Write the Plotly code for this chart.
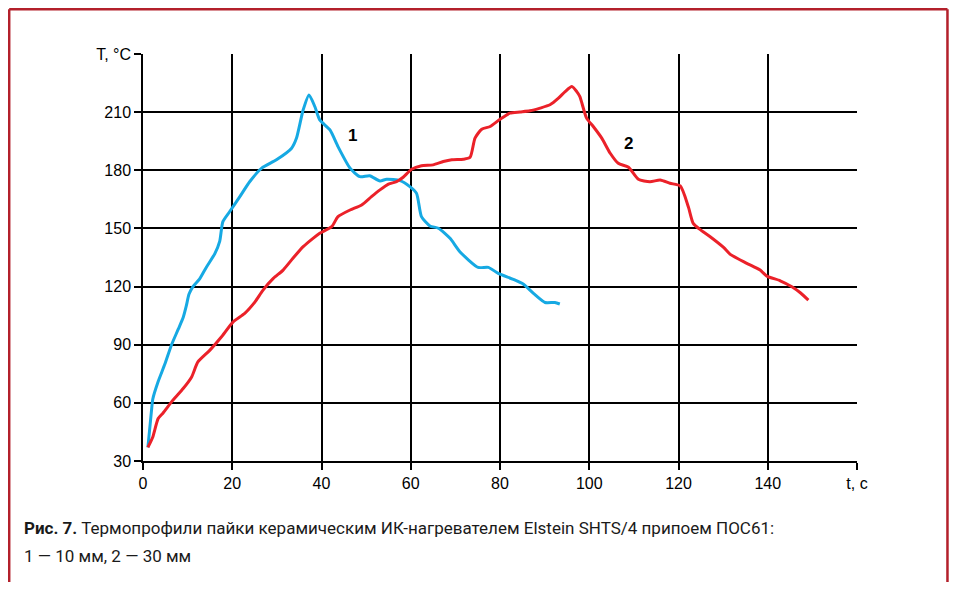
import plotly.graph_objects as go

# Series 1 (10 mm) — time, s / temperature, °C
t1 = [1.1, 1.9, 2.2, 3.4, 4.9, 6.4, 7.9, 9.0, 9.7, 10.3, 11.2, 12.7, 14.2, 16.1, 17.2,
      17.9, 19.4, 21.7, 23.9, 26.6, 29.9, 33.3, 34.4, 35.9, 37.2, 38.5, 39.6, 41.9, 43.7,
      46.4, 48.6, 50.8, 53.1, 54.6, 57.6, 59.8, 61.3, 62.4, 64.3, 66.2, 68.8, 71.0, 75.1,
      77.4, 79.6, 83.0, 85.2, 87.5, 90.1, 92.3, 93.4]
T1 = [37, 56, 62, 71, 80, 90, 98, 104, 110, 116, 120, 124, 130, 137, 143.5,
      153.5, 158.6, 166.4, 174.1, 181.1, 185.4, 191.4, 196.6, 211.2, 218.9, 212.9, 206, 200.8, 192.2,
      181.1, 176.7, 177.2, 174.5, 175.4, 174.7, 171.6, 168.1, 156.1, 151.3, 150.1, 144.9, 138, 129.9,
      129.9, 126.8, 123.7, 121.3, 116.5, 111.8, 111.8, 111]

# Series 2 (30 mm)
t2 = [1.1, 2.2, 3.4, 4.5, 6.7, 9.0, 10.9, 12.3, 15.0, 17.6, 20.2, 22.8, 25.1, 26.9, 29.2,
      31.4, 33.6, 35.9, 38.1, 39.6, 42.3, 43.7, 46.4, 49.0, 51.2, 53.1, 55.0, 56.8, 58.3,
      60.2, 62.4, 65.0, 67.3, 69.2, 71.8, 73.3, 74.4, 75.9, 77.8, 80.0, 82.2, 84.5, 86.7,
      89.0, 91.2, 93.1, 94.6, 96.1, 97.2, 97.9, 99.4, 100.9, 102.8, 104.7, 106.5, 108.8,
      111.0, 113.6, 115.9, 118.1, 120.4, 122.2, 123.3, 124.8, 127.1, 130.1, 131.6, 135.3,
      138.3, 139.8, 142.8, 145.4, 147.3, 149.1]
T2 = [37, 42.4, 51.9, 54.8, 61.4, 67.4, 73.4, 81.1, 87.2, 94.1, 101.8, 106.2, 112.1, 118.2, 124.2,
      128.5, 134.6, 140.6, 144.9, 147.5, 150.9, 156.1, 159.5, 162.1, 166.4, 169.9, 172.9, 174.1, 176.4,
      180.5, 182.3, 182.8, 184.5, 185.4, 185.7, 186.7, 196.6, 201.2, 202.6, 206.3, 209.5, 210.1, 210.7,
      212.1, 213.8, 217.2, 220.6, 223.2, 220.6, 218, 206.9, 202.6, 196.6, 188.8, 183.6, 181.6,
      175.4, 174.1, 175, 173.3, 171.9, 161.2, 152.6, 149.5, 145.7, 140.2, 136.6, 132.0,
      128.5, 125.4, 123.0, 119.9, 116.8, 113.0]

x_ticks = [0, 20, 40, 60, 80, 100, 120, 140, 160]
x_labels = ["0", "20", "40", "60", "80", "100", "120", "140", "t, c"]
y_ticks = [30, 60, 90, 120, 150, 180, 210, 240]
y_labels = ["30", "60", "90", "120", "150", "180", "210", "T, °C"]

curve_labels = ["1", "2"]
label_pos = [(46.9, 198), (108.7, 194)]

caption_bold = "Рис. 7."
caption_1 = " Термопрофили пайки керамическим ИК-нагревателем Elstein SHTS/4 припоем ПОС61:"
caption_2 = "1 — 10 мм, 2 — 30 мм"

fig = go.Figure()
fig.add_trace(go.Scatter(x=t1, y=T1, mode="lines", line=dict(color="#16a9e3", width=3, shape="spline", smoothing=0.6),
                         showlegend=False, hoverinfo="skip"))
fig.add_trace(go.Scatter(x=t2, y=T2, mode="lines", line=dict(color="#eb2129", width=3, shape="spline", smoothing=0.6),
                         showlegend=False, hoverinfo="skip"))

for txt, (lx, ly) in zip(curve_labels, label_pos):
    fig.add_annotation(x=lx, y=ly, text="<b>" + txt + "</b>", showarrow=False,
                       font=dict(family="Liberation Sans, Arial", size=17, color="black"))

cap_font = "Roboto, sans-serif"
fig.add_annotation(xref="paper", yref="paper", x=-0.1695, y=-0.165, xanchor="left", yanchor="middle",
                   text="<b>" + caption_bold + "</b>" + caption_1, showarrow=False,
                   font=dict(family=cap_font, size=17, color="#1a1a1a"))
fig.add_annotation(xref="paper", yref="paper", x=-0.1695, y=-0.234, xanchor="left", yanchor="middle",
                   text=caption_2, showarrow=False,
                   font=dict(family=cap_font, size=17, color="#1a1a1a"))

# frame (left, top, right)
fc = "#b3202b"
fx0, fx1, fy0, fy1 = -0.1874, 1.1267, 1.110, -0.35
fig.add_shape(type="line", xref="paper", yref="paper", x0=fx0, x1=fx0, y0=fy0, y1=fy1,
              line=dict(color=fc, width=2.5))
fig.add_shape(type="line", xref="paper", yref="paper", x0=fx0, x1=fx1, y0=fy0, y1=fy0,
              line=dict(color=fc, width=2.5))
fig.add_shape(type="line", xref="paper", yref="paper", x0=fx1, x1=fx1, y0=fy0, y1=fy1,
              line=dict(color=fc, width=2.5))

axis_font = dict(family="Liberation Sans, Arial", size=16, color="black")
fig.update_xaxes(range=[0, 160], tickvals=x_ticks, ticktext=x_labels, showgrid=True, gridcolor="black",
                 gridwidth=1.5, zeroline=False, showline=True, linecolor="black", linewidth=1.5,
                 ticks="outside", ticklen=7, tickcolor="black", tickwidth=1.5, tickfont=axis_font)
fig.update_yaxes(range=[30, 240], tickvals=y_ticks, ticktext=y_labels, showgrid=True, gridcolor="black",
                 gridwidth=1.5, zeroline=False, showline=True, linecolor="black", linewidth=1.5,
                 ticks="outside", ticklen=7, tickcolor="black", tickwidth=1.5, tickfont=axis_font)

fig.update_layout(width=941, height=574, margin=dict(l=135, r=92, t=46, b=121),
                  paper_bgcolor="white", plot_bgcolor="white")

fig.write_html("out.html")
